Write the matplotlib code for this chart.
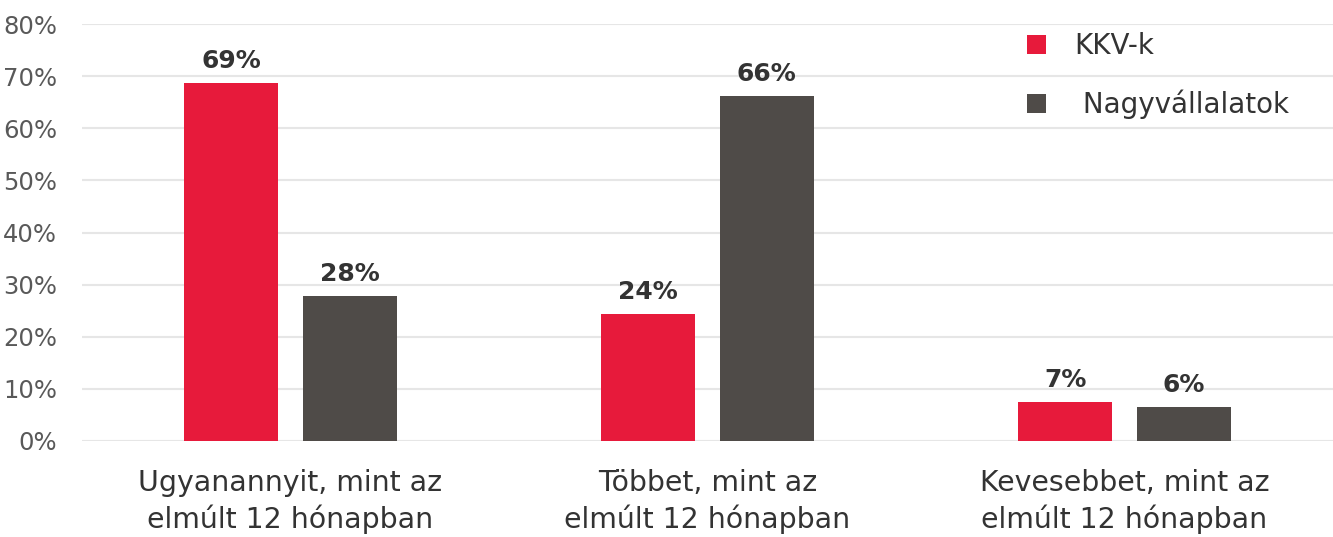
import numpy as np
import matplotlib.pyplot as plt

categories = ["Ugyanannyit, mint az\nelmúlt 12 hónapban",
              "Többet, mint az\nelmúlt 12 hónapban",
              "Kevesebbet, mint az\nelmúlt 12 hónapban"]
kkv = [68.7, 24.4, 7.5]
nagy = [27.8, 66.2, 6.5]
kkv_labels = ["69%", "24%", "7%"]
nagy_labels = ["28%", "66%", "6%"]

red = "#E71A3B"
grey = "#4F4B48"

fig = plt.figure(figsize=(13.33, 5.37), dpi=100)
ax = fig.add_axes([0.0615, 0.179, 0.9385, 0.776])

x = np.arange(len(categories))
w = 0.225
off = 0.142
b1 = ax.bar(x - off, kkv, w, color=red, label="KKV-k", zorder=3)
b2 = ax.bar(x + off, nagy, w, color=grey, label=" Nagyvállalatok", zorder=3)

for bars, labs in [(b1, kkv_labels), (b2, nagy_labels)]:
    for bar, lab in zip(bars, labs):
        ax.text(bar.get_x() + bar.get_width() / 2, bar.get_height() + 1.9, lab,
                ha="center", va="bottom", fontsize=18, fontweight="bold", color="#333333")

ax.set_ylim(0, 80)
ax.set_xlim(-0.5, 2.5)
ax.set_yticks(range(0, 81, 10))
ax.set_yticklabels([f"{v}%" for v in range(0, 81, 10)])
ax.set_xticks(x)
ax.set_xticklabels(categories, fontsize=20.4, color="#333333", linespacing=1.35)
ax.tick_params(axis="y", length=0, labelsize=17.5, labelcolor="#595959", pad=18)
ax.tick_params(axis="x", length=0, pad=20)
ax.grid(axis="y", color="#e6e6e6", lw=1.5, zorder=0)
for s in ax.spines.values():
    s.set_visible(False)

ax.legend(loc="upper right", bbox_to_anchor=(0.985, 1.04), frameon=False, fontsize=20,
          handlelength=0.7, handleheight=0.7, labelspacing=1.05, handletextpad=1.0,
          labelcolor="#333333")

fig.savefig("out.png", dpi=100)
